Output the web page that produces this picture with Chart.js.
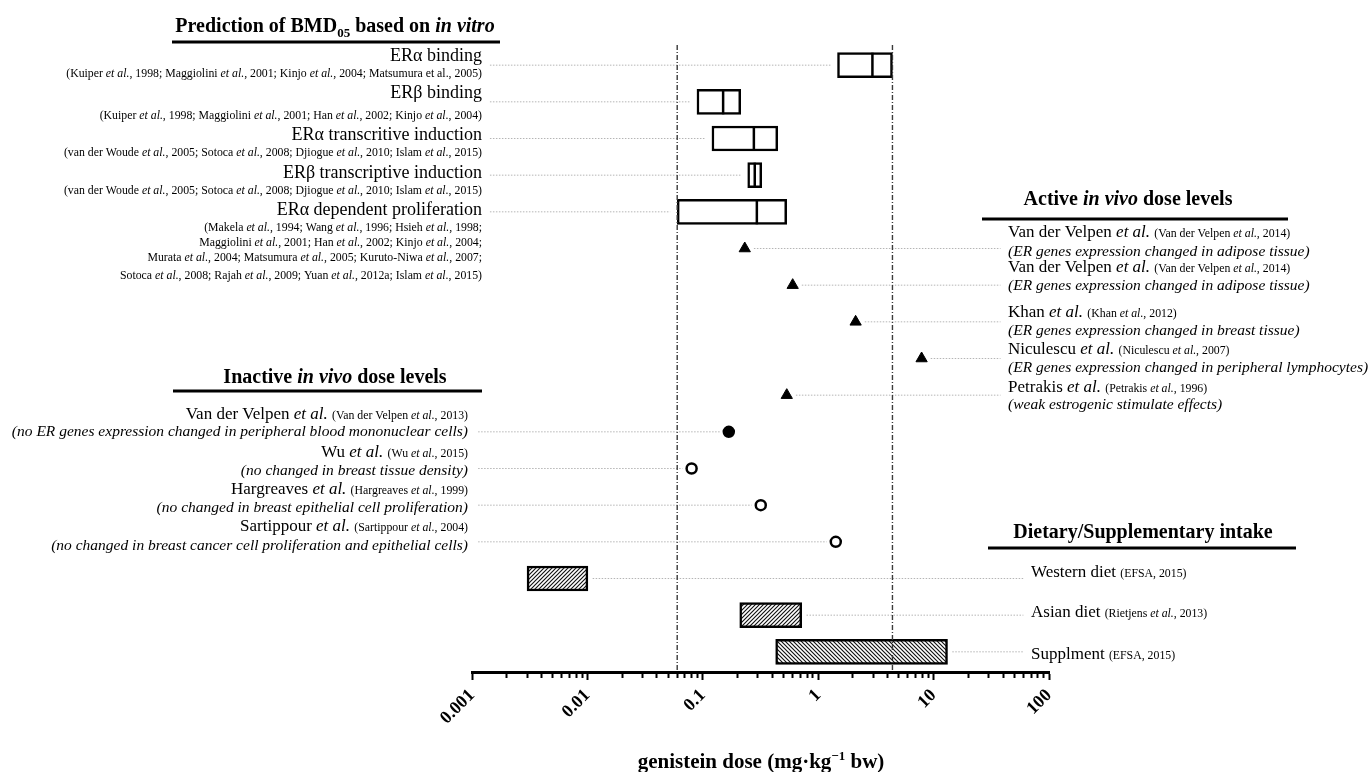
<!DOCTYPE html>
<html>
<head>
<meta charset="utf-8">
<title>Genistein dose levels</title>
<script src="https://cdn.jsdelivr.net/npm/chart.js@4.4.1/dist/chart.umd.min.js"></script>
<style>
  html, body { margin: 0; padding: 0; background: #fff; }
  canvas { display: block; }
</style>
</head>
<body>
<canvas id="chart" width="1368" height="772"></canvas>
<script>
// ---- data -------------------------------------------------------------
// row index on the vertical axis (0 = top)
const vitroRow    = [0, 1, 2, 3, 4];
const activeRow   = [5, 6, 7, 8, 9];
const inactiveRow = [10, 11, 12, 13];
const intakeRow   = [14, 15, 16];

// in vitro BMD05 predictions (mg/kg bw): low, median, high
const vitroLow    = [1.47, 0.089, 0.12, 0.245, 0.06];
const vitroMedian = [2.95, 0.15, 0.277, 0.282, 0.294];
const vitroHigh   = [4.4, 0.213, 0.446, 0.324, 0.533];

// in vivo dose levels (mg/kg bw)
const activeDose   = [0.231, 0.601, 2.11, 7.87, 0.534];
const inactiveDose = [0.168, 0.080, 0.318, 1.42];
const inactiveFilled = [true, false, false, false];

// dietary / supplementary intake ranges (mg/kg bw)
const intakeLow  = [0.003, 0.209, 0.428];
const intakeHigh = [0.0101, 0.72, 13.2];

// BMD05 range bounds shown as dash-dot reference lines
const bmdRange = [0.06, 4.4];

// axis
const tickValues = [0.001, 0.01, 0.1, 1, 10, 100];
const tickLabels = ['0.001', '0.01', '0.1', '1', '10', '100'];

// ---- label text (*...* = italic) ----------------------------------------
const vitroTitles = ['ERα binding', 'ERβ binding', 'ERα transcritive induction',
  'ERβ transcriptive induction', 'ERα dependent proliferation'];
const vitroCites = [
  ['(Kuiper *et al.*, 1998; Maggiolini *et al.*, 2001; Kinjo *et al.*, 2004; Matsumura et al., 2005)'],
  ['(Kuiper *et al.*, 1998; Maggiolini *et al.*, 2001; Han *et al.*, 2002; Kinjo *et al.*, 2004)'],
  ['(van der Woude *et al.*, 2005; Sotoca *et al.*, 2008; Djiogue *et al.*, 2010; Islam *et al.*, 2015)'],
  ['(van der Woude *et al.*, 2005; Sotoca *et al.*, 2008; Djiogue *et al.*, 2010; Islam *et al.*, 2015)'],
  ['(Makela *et al.*, 1994; Wang *et al.*, 1996; Hsieh *et al.*, 1998;',
   'Maggiolini *et al.*, 2001; Han *et al.*, 2002; Kinjo *et al.*, 2004;',
   'Murata *et al.*, 2004; Matsumura *et al.*, 2005; Kuruto-Niwa *et al.*, 2007;',
   'Sotoca *et al.*, 2008; Rajah *et al.*, 2009; Yuan *et al.*, 2012a; Islam *et al.*, 2015)']
];
const activeNames = ['Van der Velpen *et al.*', 'Van der Velpen *et al.*', 'Khan *et al.*',
  'Niculescu *et al.*', 'Petrakis *et al.*'];
const activeCites = ['(Van der Velpen *et al.*, 2014)', '(Van der Velpen *et al.*, 2014)',
  '(Khan *et al.*, 2012)', '(Niculescu *et al.*, 2007)', '(Petrakis *et al.*, 1996)'];
const activeNotes = ['(ER genes expression changed in adipose tissue)',
  '(ER genes expression changed in adipose tissue)',
  '(ER genes expression changed in breast tissue)',
  '(ER genes expression changed in peripheral lymphocytes)',
  '(weak estrogenic stimulate effects)'];
const inactiveNames = ['Van der Velpen *et al.*', 'Wu *et al.*', 'Hargreaves *et al.*', 'Sartippour *et al.*'];
const inactiveCites = ['(Van der Velpen *et al.*, 2013)', '(Wu *et al.*, 2015)',
  '(Hargreaves *et al.*, 1999)', '(Sartippour *et al.*, 2004)'];
const inactiveNotes = ['(no ER genes expression changed in peripheral blood mononuclear cells)',
  '(no changed in breast tissue density)',
  '(no changed in breast epithelial cell proliferation)',
  '(no changed in breast cancer cell proliferation and epithelial cells)'];
const intakeNames = ['Western diet', 'Asian diet', 'Supplment'];
const intakeCites = ['(EFSA, 2015)', '(Rietjens *et al.*, 2013)', '(EFSA, 2015)'];

// ---- styling ----------------------------------------------------------
const SERIF = '"Liberation Serif", "Times New Roman", serif';
const FONT = {
  head: 'bold 20px ' + SERIF, headI: 'italic bold 20px ' + SERIF, headSub: 'bold 13px ' + SERIF,
  vitro: '18px ' + SERIF,
  cite: '11.8px ' + SERIF, citeI: 'italic 11.8px ' + SERIF,
  name: '17px ' + SERIF, nameI: 'italic 17px ' + SERIF,
  note: 'italic 15.5px ' + SERIF,
  axis: 'bold 21px ' + SERIF, axisSup: 'bold 13px ' + SERIF
};
const SHIFT = { headSub: 5, axisSup: -8 };

// label placement: pixel offsets of baselines from each row centre
const vitroTitleDy = [-4, -4, 1.5, 2.5, 3];
const vitroCiteDy  = [[12], [17], [17.5], [18.5], [19, 34.5, 49.5, 67.5]];
const activeNameDy = [-12, -13, -4.5, -4.5, -3.5];
const activeNoteDy = [7, 5, 13.5, 13, 14];
const inactiveNameDy = [-12.5, -12, -11.5, -10.5];
const inactiveNoteDy = [4.5, 6, 6.5, 8.5];
const intakeDy = [-2, 2, 7];

function hatch(dir) {
  const s = 4, c = document.createElement('canvas');
  c.width = c.height = s;
  const g = c.getContext('2d');
  g.fillStyle = '#fff'; g.fillRect(0, 0, s, s);
  g.strokeStyle = '#111'; g.lineWidth = 1.15;
  g.beginPath();
  if (dir > 0) {          // "/"
    g.moveTo(0, s); g.lineTo(s, 0);
    g.moveTo(-1, 1); g.lineTo(1, -1);
    g.moveTo(s - 1, s + 1); g.lineTo(s + 1, s - 1);
  } else {                // "\"
    g.moveTo(0, 0); g.lineTo(s, s);
    g.moveTo(-1, s - 1); g.lineTo(1, s + 1);
    g.moveTo(s - 1, -1); g.lineTo(s + 1, 1);
  }
  g.stroke();
  return g.createPattern(c, 'repeat');
}
const hatchUp = hatch(1), hatchDown = hatch(-1);

// ---- datasets ---------------------------------------------------------
const leader = (x0, x1, row) => ({
  type: 'line', order: 20,
  data: [{ x: x0, y: row }, { x: x1, y: row }],
  borderColor: '#b5b5b5', borderWidth: 1, borderDash: [1.5, 1.5],
  pointRadius: 0, fill: false
});
const leaders = [];
const LEFT_START = 0.00143, LEFT_START_LOW = 0.00113, RIGHT_END = 38, RIGHT_END_DIET = 60;
vitroRow.forEach((r, i) => leaders.push(leader(LEFT_START, vitroLow[i] / 1.15, r)));
inactiveRow.forEach((r, i) => leaders.push(leader(LEFT_START_LOW, inactiveDose[i] / 1.2, r)));
activeRow.forEach((r, i) => leaders.push(leader(activeDose[i] * 1.2, RIGHT_END, r)));
intakeRow.forEach((r, i) => leaders.push(leader(intakeHigh[i] * 1.1, RIGHT_END_DIET, r)));

const Y_MIN = -0.55, Y_MAX = 16.55;
const bmdLines = bmdRange.map(v => ({
  type: 'line', order: 0,
  data: [{ x: v, y: Y_MIN }, { x: v, y: Y_MAX }],
  borderColor: '#3a3a3a', borderWidth: 1.4, borderDash: [5, 2, 1, 2],
  pointRadius: 0, fill: false
}));

const datasets = [
  ...leaders,
  {
    type: 'bar', indexAxis: 'y', order: 5, grouped: false, barThickness: 25,
    data: vitroRow.map((r, i) => ({ x: [vitroLow[i], vitroHigh[i]], y: r })),
    backgroundColor: '#fff', borderColor: '#000', borderWidth: 2.5, borderSkipped: false
  },
  {
    type: 'scatter', order: 3,
    data: vitroRow.map((r, i) => ({ x: vitroMedian[i], y: r })),
    pointStyle: 'line', pointRotation: 90, pointRadius: 12.5,
    pointBorderColor: '#000', pointBorderWidth: 2.5
  },
  {
    type: 'bar', indexAxis: 'y', order: 5, grouped: false, barThickness: 25,
    data: intakeRow.map((r, i) => ({ x: [intakeLow[i], intakeHigh[i]], y: r })),
    backgroundColor: c => (c.dataIndex === 2 ? hatchDown : hatchUp),
    borderColor: '#000', borderWidth: 2.5, borderSkipped: false
  },
  {
    type: 'scatter', order: 2,
    data: activeRow.map((r, i) => ({ x: activeDose[i], y: r })),
    pointStyle: 'triangle', pointRadius: 6.5,
    pointBackgroundColor: '#000', pointBorderColor: '#000', pointBorderWidth: 1
  },
  {
    type: 'scatter', order: 2,
    data: inactiveRow.map((r, i) => ({ x: inactiveDose[i], y: r })),
    pointStyle: 'circle', pointRadius: 5,
    pointBackgroundColor: c => (inactiveFilled[c.dataIndex] ? '#000' : '#fff'),
    pointBorderColor: '#000', pointBorderWidth: 2.5
  },
  ...bmdLines
];

// ---- text layer -------------------------------------------------------
function parseRuns(str, up, it) {
  return str.split('*').map((s, k) => [s, k % 2 ? it : up]).filter(r => r[0].length);
}
function drawRuns(ctx, list, x, y, align) {
  let w = 0;
  for (const [t, s] of list) { ctx.font = FONT[s]; w += ctx.measureText(t).width; }
  let cx = align === 'right' ? x - w : align === 'center' ? x - w / 2 : x;
  for (const [t, s] of list) {
    ctx.font = FONT[s];
    ctx.fillText(t, cx, y + (SHIFT[s] || 0));
    cx += ctx.measureText(t).width;
  }
}
const nameLine = (name, cite) =>
  [...parseRuns(name, 'name', 'nameI'), [' ', 'name'], ...parseRuns(cite, 'cite', 'citeI')];

const headings = [
  { runs: [['Prediction of BMD', 'head'], ['05', 'headSub'], [' based on ', 'head'], ['in vitro', 'headI']],
    x: 335, y: 32, rule: [172, 500, 42] },
  { runs: [['Inactive ', 'head'], ['in vivo', 'headI'], [' dose levels', 'head']],
    x: 335, y: 383, rule: [173, 482, 391] },
  { runs: [['Active ', 'head'], ['in vivo', 'headI'], [' dose levels', 'head']],
    x: 1128, y: 205, rule: [982, 1288, 219] },
  { runs: [['Dietary/Supplementary intake', 'head']],
    x: 1143, y: 538, rule: [988, 1296, 548] }
];

const textLayer = {
  id: 'textLayer',
  afterDraw(chart) {
    const ctx = chart.ctx, ys = chart.scales.y;
    const rowY = r => ys.getPixelForValue(r);
    ctx.save();
    ctx.fillStyle = '#000';
    ctx.textBaseline = 'alphabetic';
    ctx.textAlign = 'left';

    headings.forEach(h => {
      drawRuns(ctx, h.runs, h.x, h.y, 'center');
      ctx.fillRect(h.rule[0], h.rule[2] - 1.5, h.rule[1] - h.rule[0], 3);
    });

    const vitroX = 482;
    vitroRow.forEach((r, i) => {
      const c = rowY(r);
      drawRuns(ctx, [[vitroTitles[i], 'vitro']], vitroX, c + vitroTitleDy[i], 'right');
      vitroCites[i].forEach((line, k) =>
        drawRuns(ctx, parseRuns(line, 'cite', 'citeI'), vitroX, c + vitroCiteDy[i][k], 'right'));
    });

    const inactiveX = 468;
    inactiveRow.forEach((r, i) => {
      const c = rowY(r);
      drawRuns(ctx, nameLine(inactiveNames[i], inactiveCites[i]), inactiveX, c + inactiveNameDy[i], 'right');
      drawRuns(ctx, [[inactiveNotes[i], 'note']], inactiveX, c + inactiveNoteDy[i], 'right');
    });

    const activeX = 1008;
    activeRow.forEach((r, i) => {
      const c = rowY(r);
      drawRuns(ctx, nameLine(activeNames[i], activeCites[i]), activeX, c + activeNameDy[i], 'left');
      drawRuns(ctx, [[activeNotes[i], 'note']], activeX, c + activeNoteDy[i], 'left');
    });

    const intakeX = 1031;
    intakeRow.forEach((r, i) => {
      drawRuns(ctx, nameLine(intakeNames[i], intakeCites[i]), intakeX, rowY(r) + intakeDy[i], 'left');
    });

    // axis title
    drawRuns(ctx, [['genistein dose (mg·kg', 'axis'], ['−1', 'axisSup'], [' bw)', 'axis']],
      761, 768, 'center');
    ctx.restore();
  }
};

// ---- axis ticks: decades with 2..9 subdivisions -------------------------
const axisTicks = [];
tickValues.forEach((d, i) => {
  if (i < tickValues.length - 1) for (let k = 1; k < 10; k++) axisTicks.push(d * k);
  else axisTicks.push(d);
});
const decadeIndex = v => tickValues.findIndex(t => Math.abs(t - v) / t < 1e-6);

new Chart(document.getElementById('chart'), {
  data: { datasets },
  options: {
    responsive: false,
    devicePixelRatio: 1,
    animation: false,
    events: [],
    layout: { padding: { left: 472, right: 319, top: 45, bottom: 0 } },
    plugins: { legend: { display: false }, tooltip: { enabled: false } },
    scales: {
      x: {
        type: 'logarithmic', position: 'bottom', offset: false,
        min: tickValues[0], max: tickValues[tickValues.length - 1],
        afterBuildTicks: s => { s.ticks = axisTicks.map(v => ({ value: v, major: decadeIndex(v) >= 0 })); },
        afterFit: s => { s.height = 100; },
        border: { display: true, color: '#000', width: 3 },
        grid: {
          offset: false, drawOnChartArea: false, drawTicks: true, tickLength: 8,
          tickWidth: 2, tickColor: '#000',
          tickBorderDash: c => (c.tick && decadeIndex(c.tick.value) >= 0 ? [] : [4, 40])
        },
        ticks: {
          autoSkip: false, minRotation: 45, maxRotation: 45, padding: 5,
          color: '#000', font: { family: SERIF, size: 18, weight: 'bold' },
          callback: v => { const j = decadeIndex(v); return j >= 0 ? tickLabels[j] : ''; }
        }
      },
      y: {
        type: 'linear', display: false, reverse: true, offset: false,
        grid: { offset: false },
        min: Y_MIN, max: Y_MAX
      }
    }
  },
  plugins: [textLayer]
});
</script>
</body>
</html>
